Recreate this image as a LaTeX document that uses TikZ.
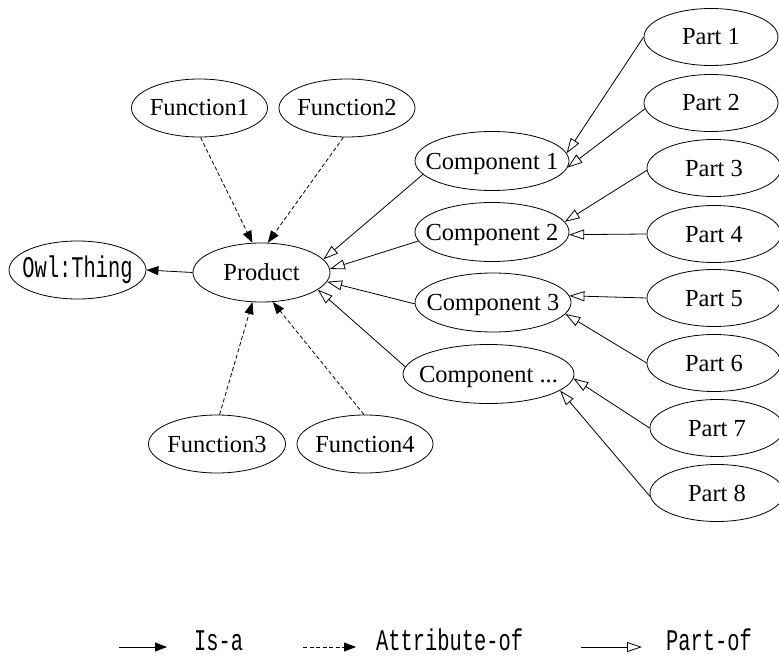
\documentclass[tikz,border=0pt]{standalone}
\usepackage{fontspec}
\setmainfont{Liberation Serif}
\newfontfamily\monof[FakeStretch=0.68]{Liberation Mono}
\usetikzlibrary{shapes.geometric,arrows.meta}
\newcommand\zb[1]{\makebox[0pt]{#1}}
\tikzset{
  ell/.style={ellipse, draw, line width=0.8pt, inner sep=0pt, minimum height=59pt,
    text height=16pt, text depth=0pt, font=\fontsize{24.5}{29}\selectfont},
  monotext/.style={font=\monof\fontsize{30}{34}\selectfont},
  isa/.style={line width=0.8pt, -{Triangle[length=12pt,width=9pt]}},
  attr/.style={isa, dash pattern=on 4pt off 2.5pt},
  partof/.style={line width=0.8pt, -{Triangle[open,length=15pt,width=10pt]}},
  leg/.style={monotext, anchor=base west, inner sep=0pt}
}
\begin{document}
\begin{tikzpicture}[x=1pt,y=-1pt]
\useasboundingbox (0,0) rectangle (779,658);
% nodes
\node[ell, monotext, text height=15pt, minimum width=137pt, minimum height=58pt] (owl) at (77.5,270) {\zb{Owl:Thing}};
\node[ell, minimum width=137pt] (prod) at (261.5,272.5) {\zb{Product}};
\node[ell, minimum width=136pt, minimum height=58pt] (f1) at (199.5,108) {\zb{Function1}};
\node[ell, minimum width=136pt, minimum height=58pt] (f2) at (347,108) {\zb{Function2}};
\node[ell, minimum width=137pt, minimum height=58pt] (f3) at (217,444) {\zb{Function3}};
\node[ell, minimum width=136pt, minimum height=58pt] (f4) at (365,444) {\zb{Function4}};
\node[ell, minimum width=154pt] (c1) at (492,161) {\zb{Component 1}};
\node[ell, minimum width=154pt] (c2) at (492,232) {\zb{Component 2}};
\node[ell, minimum width=156pt] (c3) at (493,302.5) {\zb{Component 3}};
\node[ell, minimum width=171pt] (c4) at (488.5,374) {\zb{Component ...}};
\node[ell, minimum width=134pt, minimum height=57pt] (p1) at (711,37) {\zb{Part 1}};
\node[ell, minimum width=134pt, minimum height=57pt] (p2) at (711,103) {\zb{Part 2}};
\node[ell, minimum width=134pt, minimum height=57pt] (p3) at (714,168) {\zb{Part 3}};
\node[ell, minimum width=134pt, minimum height=57pt] (p4) at (714,234) {\zb{Part 4}};
\node[ell, minimum width=134pt, minimum height=57pt] (p5) at (714,298) {\zb{Part 5}};
\node[ell, minimum width=134pt, minimum height=57pt] (p6) at (714,363) {\zb{Part 6}};
\node[ell, minimum width=134pt, minimum height=57pt] (p7) at (717,428) {\zb{Part 7}};
\node[ell, minimum width=134pt, minimum height=57pt] (p8) at (717,493) {\zb{Part 8}};
% is-a
\draw[isa] (prod.west) -- (owl.east);
% attribute-of
\draw[attr] (f1.272) -- (prod.107);
\draw[attr] (f2.263) -- (prod.78);
\draw[attr] (f3.85) -- (prod.253);
\draw[attr] (f4.92) -- (prod.291);
% part-of components
\draw[partof] (c1.191) -- (prod.12);
\draw[partof] (c2.187) -- (prod.3);
\draw[partof] (c3.181) -- (prod.-8);
\draw[partof] (c4.175) -- (prod.-17);
% part-of parts
\draw[partof] (p1.west) -- (c1.6);
\draw[partof] (p2.185) -- (c1.-5);
\draw[partof] (p3.182) -- (c2.8);
\draw[partof] (p4.west) -- (c2.-2);
\draw[partof] (p5.west) -- (c3.5);
\draw[partof] (p6.west) -- (c3.-9);
\draw[partof] (p7.west) -- (c4.-3);
\draw[partof] (p8.183) -- (c4.-13);
% legend
\coordinate (la1) at (119,647);
\coordinate (la2) at (167,647);
\coordinate (lb1) at (303,647);
\coordinate (lb2) at (356,647);
\coordinate (lc1) at (581,647);
\coordinate (lc2) at (642,647);
\draw[isa] (la1) -- (la2);
\draw[attr] (lb1) -- (lb2);
\draw[partof] (lc1) -- (lc2);
\node[leg] (t1) at (194,650) {Is-a};
\node[leg] (t2) at (376,650) {Attribute-of};
\node[leg] (t3) at (666,650) {Part-of};
\end{tikzpicture}
\end{document}
